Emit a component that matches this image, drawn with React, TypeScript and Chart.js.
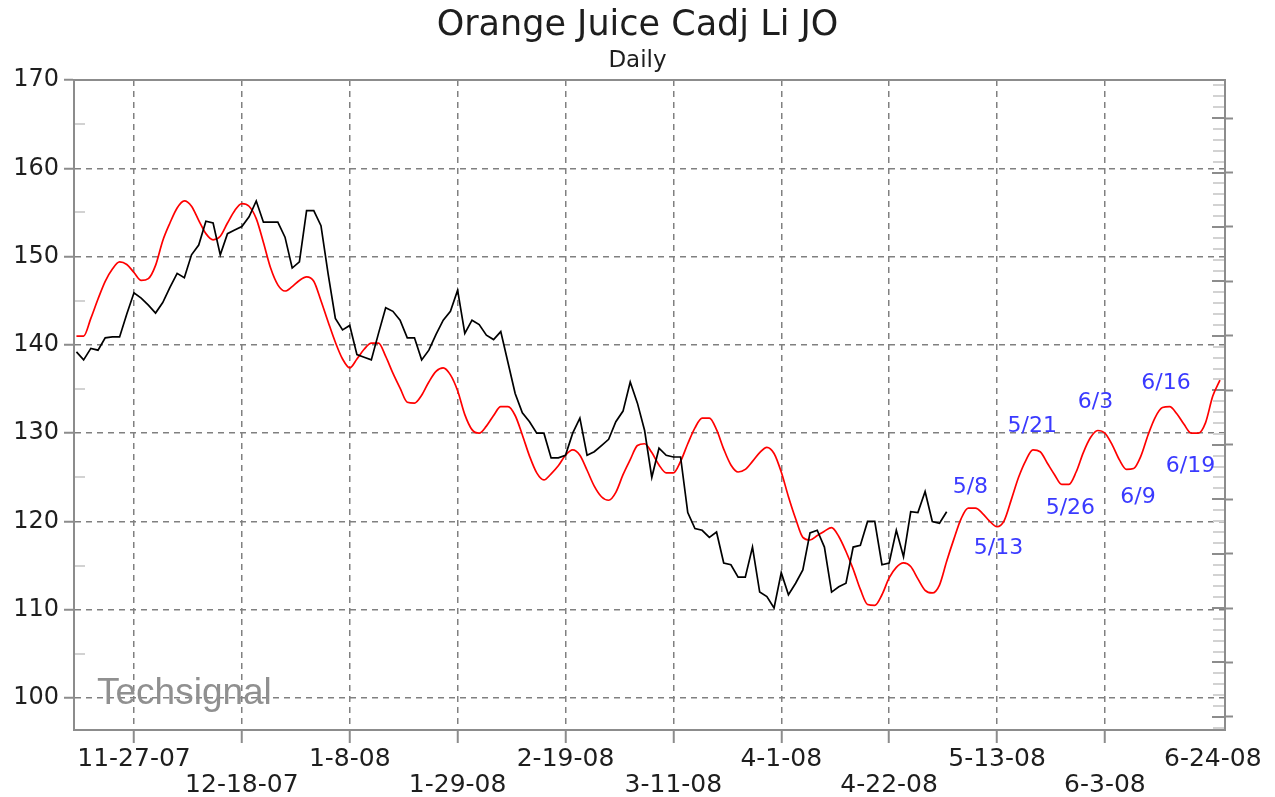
import React, { useEffect, useRef } from 'react';
import { Chart, registerables } from 'chart.js';

Chart.register(...registerables);

// ---- data ----
const DATE_LABELS = ['11-27-07', '12-18-07', '1-8-08', '1-29-08', '2-19-08', '3-11-08', '4-1-08', '4-22-08', '5-13-08', '6-3-08', '6-24-08'];
const DATE_TICK_DAYS = [0, 15, 30, 45, 60, 75, 90, 105, 120, 135, 150];
const PRICE_TICKS = [100, 105, 110, 115, 120, 125, 130, 135, 140, 145, 150, 155, 160, 165, 170];

const PRICE_START_DAY = -8;
const PRICE = [
  139.2, 138.3, 139.6, 139.4, 140.8, 140.9, 140.9, 143.5,
  145.9, 145.3, 144.5, 143.6, 144.8, 146.5, 148.1, 147.6, 150.2, 151.3,
  154.0, 153.8, 150.2, 152.6, 153.0, 153.4, 154.5, 156.3, 153.9, 153.9,
  153.9, 152.2, 148.7, 149.4, 155.2, 155.2, 153.5, 148.0, 143.0, 141.7,
  142.2, 138.9, 138.6, 138.3, 141.3, 144.2, 143.8, 142.8, 140.8, 140.8,
  138.3, 139.4, 141.2, 142.8, 143.8, 146.2, 141.3, 142.8, 142.3, 141.1,
  140.6, 141.5, 138.0, 134.5, 132.3, 131.3, 130.0, 130.0, 127.2, 127.2,
  127.5, 130.0, 131.7, 127.5, 127.9, 128.6, 129.3, 131.3, 132.5, 135.8,
  133.4, 130.3, 125.0, 128.3, 127.5, 127.3, 127.3, 121.0, 119.2, 119.0,
  118.2, 118.8, 115.3, 115.1, 113.7, 113.7, 117.1, 112.0, 111.5, 110.2,
  114.2, 111.7, 113.0, 114.5, 118.7, 119.0, 117.1, 112.0, 112.6, 113.0,
  117.1, 117.3, 120.0, 120.0, 115.1, 115.3, 119.0, 116.0, 121.1, 121.0,
  123.4, 120.0, 119.8, 121.1,
];

const CYCLE_START_DAY = -8;
const CYCLE = [
  141.0, 141.0, 143.0, 145.2, 147.2, 148.6, 149.4, 149.1,
  148.2, 147.3, 147.5, 149.0, 151.8, 153.8, 155.5, 156.3, 155.7, 154.1,
  152.6, 151.9, 152.3, 153.8, 155.2, 156.0, 155.7, 154.3, 151.6, 148.7,
  146.8, 146.1, 146.6, 147.3, 147.7, 147.2, 145.0, 142.6, 140.3, 138.4,
  137.4, 138.4, 139.5, 140.2, 140.2, 138.7, 136.8, 135.1, 133.5, 133.4,
  134.3, 135.8, 137.0, 137.4, 136.6, 134.8, 132.1, 130.4, 130.0, 130.8,
  132.0, 133.0, 133.0, 132.0, 129.8, 127.4, 125.5, 124.7, 125.4, 126.3,
  127.5, 128.1, 127.5, 125.8, 124.0, 122.8, 122.4, 123.3, 125.3, 127.0,
  128.6, 128.8, 127.8, 126.4, 125.5, 125.5, 126.8, 128.8, 130.6, 131.7,
  131.7, 130.4, 128.2, 126.4, 125.6, 125.9, 126.8, 127.8, 128.4, 127.7,
  125.6, 122.8, 120.3, 118.2, 117.9, 118.4, 118.9, 119.3, 118.3, 116.6,
  114.6, 112.3, 110.6, 110.5, 111.7, 113.6, 114.8, 115.3, 114.9, 113.5,
  112.2, 111.9, 112.8, 115.5, 118.0, 120.3, 121.5, 121.5, 120.9, 120.0,
  119.4, 120.1, 122.5, 125.0, 126.9, 128.1, 127.9, 126.6, 125.3, 124.2,
  124.2, 125.6, 127.8, 129.5, 130.3, 130.0, 128.7, 127.0, 125.9, 126.0,
  127.4, 129.8, 131.8, 132.9, 133.0, 132.2, 131.0, 130.0, 130.0, 131.2,
  134.2, 136.0,
];

const NOTE_LABELS = ['5/8', '5/13', '5/21', '5/26', '6/3', '6/9', '6/16', '6/19'];
const NOTE_DAYS = [116.3, 120.2, 124.9, 130.2, 133.7, 139.6, 143.5, 146.9];
const NOTE_VALUES = [123.9, 117.0, 130.8, 121.5, 133.5, 122.7, 135.7, 126.3];

// ---- axis ranges ----
const X_MIN = -8.34;
const X_MAX = 151.7;
const Y_MIN = 96.38;
const Y_MAX = 170;
const R_MIN = -1.2;
const R_MAX = 58.5;

const FONT = '"DejaVu Sans", Verdana, sans-serif';
const AXIS_GRAY = '#8c8c8c';
const GRID_GRAY = '#808080';

const decorPlugin = {
  id: 'decor',
  beforeDatasetsDraw(chart: any) {
    const { ctx, chartArea, scales } = chart;
    ctx.save();
    // left minor ticks (inward)
    const y = scales.y;
    ctx.lineWidth = 2;
    ctx.strokeStyle = '#d2d2d2';
    y.ticks.forEach((t: any) => {
      if (t.value % 10 !== 0) {
        const py = Math.round(y.getPixelForValue(t.value));
        ctx.beginPath();
        ctx.moveTo(chartArea.left + 1, py);
        ctx.lineTo(chartArea.left + 11, py);
        ctx.stroke();
      }
    });
    // right ticks (inward parts)
    const r = scales.y2;
    r.ticks.forEach((t: any) => {
      const py = Math.round(r.getPixelForValue(t.value));
      const major = Math.abs(t.value % 5) < 1e-9;
      ctx.strokeStyle = major ? AXIS_GRAY : '#d2d2d2';
      ctx.beginPath();
      ctx.moveTo(chartArea.right - (major ? 13 : 12), py);
      ctx.lineTo(chartArea.right - 1, py);
      ctx.stroke();
    });
    // watermark
    ctx.font = '37px "Liberation Sans", Arial, sans-serif';
    ctx.fillStyle = '#909090';
    ctx.textAlign = 'left';
    ctx.textBaseline = 'alphabetic';
    ctx.fillText('Techsignal', chartArea.left + 23, chartArea.bottom - 26);
    ctx.restore();
  },
  afterDatasetsDraw(chart: any) {
    const { ctx, scales } = chart;
    ctx.save();
    ctx.font = '22px ' + FONT;
    ctx.fillStyle = '#3a3aff';
    ctx.textAlign = 'center';
    ctx.textBaseline = 'middle';
    NOTE_LABELS.forEach((txt, i) => {
      const px = scales.x.getPixelForValue(NOTE_DAYS[i]);
      const py = scales.y.getPixelForValue(NOTE_VALUES[i]);
      ctx.fillText(txt, px, py);
    });
    ctx.restore();
  },
};

export default function App() {
  const ref = useRef<HTMLCanvasElement | null>(null);

  useEffect(() => {
    if (!ref.current) return;
    const lastIdx = DATE_TICK_DAYS.length - 1;
    const chart = new Chart(ref.current, {
      type: 'line',
      data: {
        datasets: [
          {
            label: 'Cycle',
            data: CYCLE.map((v, i) => ({ x: CYCLE_START_DAY + i, y: v })),
            borderColor: '#ff0000',
            borderWidth: 1.7,
            pointRadius: 0,
            tension: 0.4,
            cubicInterpolationMode: 'monotone',
            order: 2,
          },
          {
            label: 'Price',
            data: PRICE.map((v, i) => ({ x: PRICE_START_DAY + i, y: v })),
            borderColor: '#000000',
            borderWidth: 1.7,
            pointRadius: 0,
            tension: 0,
            order: 1,
          },
        ],
      },
      options: {
        responsive: false,
        animation: false,
        layout: { padding: 0 },
        plugins: {
          legend: { display: false },
          tooltip: { enabled: false },
          title: {
            display: true,
            text: 'Orange Juice Cadj Li JO',
            color: '#1e1e1e',
            font: { family: FONT, size: 35, weight: 'normal', lineHeight: 1.2 },
            padding: { top: 5, bottom: 0 },
          },
          subtitle: {
            display: true,
            text: 'Daily',
            color: '#1e1e1e',
            font: { family: FONT, size: 23, weight: 'normal', lineHeight: 1.2 },
            padding: { top: 0, bottom: 5.4 },
          },
        },
        scales: {
          x: {
            type: 'linear',
            position: 'bottom',
            min: X_MIN,
            max: X_MAX,
            afterBuildTicks: (s: any) => {
              s.ticks = DATE_TICK_DAYS.map((v) => ({ value: v }));
            },
            afterFit: (s: any) => {
              s.height = 67;
            },
            ticks: {
              autoSkip: false,
              maxRotation: 0,
              minRotation: 0,
              padding: 3,
              color: '#1e1e1e',
              font: { family: FONT, size: 25, lineHeight: '26px' },
              callback: (_v: any, i: number) => (i % 2 === 0 ? [DATE_LABELS[i], ''] : ['', DATE_LABELS[i]]),
            },
            grid: {
              color: (c: any) => (c.index === lastIdx ? 'transparent' : GRID_GRAY),
              lineWidth: 1.5,
              tickLength: 13,
              tickColor: (c: any) => (c.index === lastIdx ? 'transparent' : AXIS_GRAY),
              tickWidth: 2,
            },
            border: { display: true, color: AXIS_GRAY, width: 2, dash: [6, 5] },
          },
          x2: {
            type: 'linear',
            position: 'top',
            min: X_MIN,
            max: X_MAX,
            afterFit: (s: any) => {
              s.height = 0;
            },
            ticks: { display: false },
            grid: { display: false, drawTicks: false },
            border: { display: true, color: AXIS_GRAY, width: 2 },
          },
          y: {
            type: 'linear',
            position: 'left',
            min: Y_MIN,
            max: Y_MAX,
            afterBuildTicks: (s: any) => {
              s.ticks = PRICE_TICKS.map((v) => ({ value: v }));
            },
            afterFit: (s: any) => {
              s.width = 74;
            },
            ticks: {
              padding: 5,
              color: '#1e1e1e',
              font: { family: FONT, size: 24 },
              callback: (v: any) => (Number(v) % 10 === 0 ? String(v) : ''),
            },
            grid: {
              color: (c: any) => (c.tick && c.tick.value % 10 === 0 ? GRID_GRAY : 'transparent'),
              lineWidth: 1.5,
              tickLength: 10,
              tickColor: (c: any) => (c.tick && c.tick.value % 10 === 0 ? AXIS_GRAY : 'transparent'),
              tickWidth: 2,
            },
            border: { display: true, color: AXIS_GRAY, width: 2, dash: [6, 5] },
          },
          y2: {
            type: 'linear',
            position: 'right',
            min: R_MIN,
            max: R_MAX,
            afterBuildTicks: (s: any) => {
              const t: any[] = [];
              for (let v = Math.ceil(R_MIN); v <= Math.floor(R_MAX); v++) t.push({ value: v });
              s.ticks = t;
            },
            afterFit: (s: any) => {
              s.width = 50;
            },
            ticks: { display: false },
            grid: {
              drawOnChartArea: false,
              tickLength: 8,
              tickColor: (c: any) => (c.tick && c.tick.value % 5 === 0 ? AXIS_GRAY : 'transparent'),
              tickWidth: 2,
            },
            border: { display: true, color: AXIS_GRAY, width: 2 },
          },
        },
      } as any,
      plugins: [decorPlugin],
    });
    return () => chart.destroy();
  }, []);

  return (
    <div style={{ position: 'absolute', left: 0, top: 0, width: 1275, height: 797, background: '#ffffff' }}>
      <canvas ref={ref} width={1275} height={797} style={{ width: 1275, height: 797, display: 'block' }} />
    </div>
  );
}
